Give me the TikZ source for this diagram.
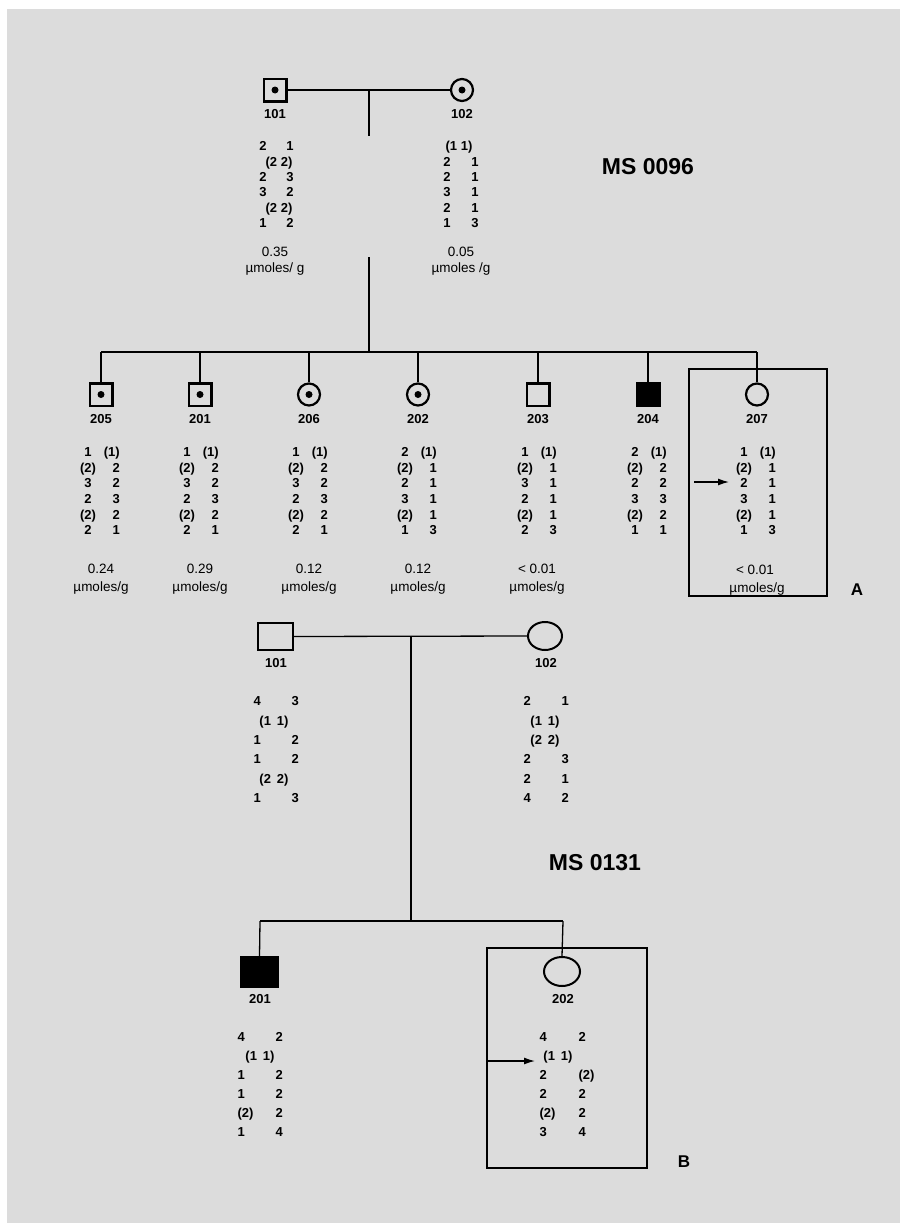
\documentclass[tikz,border=0pt]{standalone}
\usepackage{fontspec}
\setmainfont{Liberation Sans}
\usetikzlibrary{arrows.meta,shapes.geometric}
\definecolor{bg}{RGB}{220,220,220}
\newcommand\genotop[2]{% name, list (uses \cx)
  \foreach \ga/\gb [count=\i] in {#2} {
    \node[gt] (#1-\i a) at (\cx-13, 452+15.6*\i-15.6) {\ga};
    \node[gt,anchor=east] (#1-\i b) at (\cx+19, 452+15.6*\i-15.6) {\gb};
  }}
\newcommand\genopar[8]{% name, anchor, xl, xr, xm, y0, dy, list
  \foreach \ga/\gb/\gc [count=\i] in {#8} {
    \node[gt,anchor=#2] (#1-\i a) at (#3, #6+#7*\i-#7) {\ga};
    \node[gt,anchor=#2] (#1-\i b) at (#4, #6+#7*\i-#7) {\gb};
    \node[gt] (#1-\i c) at (#5, #6+#7*\i-#7) {\gc};
  }}
\begin{document}
\begin{tikzpicture}[x=1pt,y=-1pt,
  gt/.style={font=\fontsize{13}{13}\selectfont\bfseries, inner sep=0pt, text height=9.3pt, text depth=0pt},
  lab/.style={gt},
  val/.style={font=\fontsize{13.5}{14}\selectfont, inner sep=0pt, text height=9.7pt, text depth=0pt},
  big/.style={font=\fontsize{23}{23}\selectfont\bfseries, inner sep=0pt},
  letter/.style={font=\fontsize{17}{17}\selectfont\bfseries, inner sep=0pt},
  sq/.style={draw, line width=2.5pt, minimum size=22.5pt, inner sep=0pt},
  ci/.style={draw, circle, line width=2.2pt, minimum size=22pt, inner sep=0pt},
  blk/.style={sq, fill=black},
  bsq/.style={draw, rectangle, line width=2pt, minimum width=35pt, minimum height=27pt, inner sep=0pt},
  bci/.style={draw, ellipse, line width=2pt, minimum width=34pt, minimum height=28pt, inner sep=0pt},
  bblk/.style={draw, fill=black, rectangle, line width=1pt, minimum width=38pt, minimum height=31pt, inner sep=0pt},
  conn/.style={line width=1.3pt},
  frame/.style={draw, line width=1.5pt, inner sep=0pt},
  arr/.style={line width=1.3pt, -{Latex[length=11pt,width=7pt]}},
  dot/.style={fill=black}
]
\useasboundingbox (0,0) rectangle (900,1223);
\fill[white] (0,0) rectangle (900,1223);
\fill[bg] (7,9) rectangle (900,1223);

% ---------------- Pedigree A: MS 0096 ----------------
\node[sq] (a101) at (275,90) {};
\fill[dot] (a101.center) circle (3.5pt);
\node[ci] (a102) at (462,90) {};
\fill[dot] (a102.center) circle (3.5pt);
\node[lab] (a101l) at (275,114) {101};
\node[lab] (a102l) at (462,114) {102};

\coordinate (am) at (369,90);
\coordinate (am1) at (369,136);
\coordinate (am2) at (369,257);
\coordinate (as) at (369,352);
\coordinate (asl) at (101,352);
\coordinate (asr) at (757,352);
\draw[conn] (a101.east) -- (a102.west);
\draw[conn] (am) -- (am1);
\draw[conn] (am2) -- (as);
\draw[conn] (asl) -- (asr);

\genopar{g101}{center}{263}{290}{279}{146}{15.4}{{2}/{1}/{}, {}/{}/{(2 2)}, {2}/{3}/{}, {3}/{2}/{}, {}/{}/{(2 2)}, {1}/{2}/{}}
\genopar{g102}{center}{447}{475}{459}{146}{15.4}{{}/{}/{(1 1)}, {2}/{1}/{}, {2}/{1}/{}, {3}/{1}/{}, {2}/{1}/{}, {1}/{3}/{}}

\node[val] (v101) at (275,252) {0.35};
\node[val] (u101) at (275,268) {µmoles/ g};
\node[val] (v102) at (461,252) {0.05};
\node[val] (u102) at (461,268) {µmoles /g};

\node[big] (msa) at (648,167) {MS 0096};

% children
\node[sq] (c205) at (101,394.5) {};
\fill[dot] (c205.center) circle (3.5pt);
\node[sq] (c201) at (200,394.5) {};
\fill[dot] (c201.center) circle (3.5pt);
\node[ci] (c206) at (309,394.5) {};
\fill[dot] (c206.center) circle (3.5pt);
\node[ci] (c202) at (418,394.5) {};
\fill[dot] (c202.center) circle (3.5pt);
\node[sq] (c203) at (538,394.5) {};
\node[blk] (c204) at (648,394.5) {};
\node[ci] (c207) at (757,394.5) {};

\foreach \n/\x in {205/101,201/200,206/309,202/418,203/538,204/648,207/757}{
  \coordinate (t\n) at (\x,352);
  \draw[conn] (t\n) -- (c\n.north);
  \node[lab] (l\n) at (\x,419) {\n};
}

\def\cx{101}
\genotop{g205}{{1}/{(1)}, {(2)}/{2}, {3}/{2}, {2}/{3}, {(2)}/{2}, {2}/{1}}
\def\cx{200}
\genotop{g201}{{1}/{(1)}, {(2)}/{2}, {3}/{2}, {2}/{3}, {(2)}/{2}, {2}/{1}}
\def\cx{309}
\genotop{g206}{{1}/{(1)}, {(2)}/{2}, {3}/{2}, {2}/{3}, {(2)}/{2}, {2}/{1}}
\def\cx{418}
\genotop{g202}{{2}/{(1)}, {(2)}/{1}, {2}/{1}, {3}/{1}, {(2)}/{1}, {1}/{3}}
\def\cx{538}
\genotop{g203}{{1}/{(1)}, {(2)}/{1}, {3}/{1}, {2}/{1}, {(2)}/{1}, {2}/{3}}
\def\cx{648}
\genotop{g204}{{2}/{(1)}, {(2)}/{2}, {2}/{2}, {3}/{3}, {(2)}/{2}, {1}/{1}}
\def\cx{757}
\genotop{g207}{{1}/{(1)}, {(2)}/{1}, {2}/{1}, {3}/{1}, {(2)}/{1}, {1}/{3}}

\node[val] (v205) at (101,569) {0.24};
\node[val] (u205) at (101,587) {µmoles/g};
\node[val] (v201) at (200,569) {0.29};
\node[val] (u201) at (200,587) {µmoles/g};
\node[val] (v206) at (309,569) {0.12};
\node[val] (u206) at (309,587) {µmoles/g};
\node[val] (v202) at (418,569) {0.12};
\node[val] (u202) at (418,587) {µmoles/g};
\node[val] (v203) at (537,569) {< 0.01};
\node[val] (u203) at (537,587) {µmoles/g};
\node[val] (v207) at (755,570) {< 0.01};
\node[val] (u207) at (757,588) {µmoles/g};

\node[frame, minimum width=138pt, minimum height=227pt] (boxA) at (758,482.5) {};
\coordinate (arA1) at (694,482);
\coordinate (arA2) at (729,482);
\draw[arr] (arA1) -- (arA2);
\node[letter] (lA) at (857,590) {A};

% ---------------- Pedigree B: MS 0131 ----------------
\node[bsq] (b101) at (275.5,636.5) {};
\node[bci] (b102) at (545,636) {};
\node[lab] (b101l) at (276,663) {101};
\node[lab] (b102l) at (546,663) {102};
\coordinate (bm) at (411,637);
\coordinate (bs) at (411,921);
\coordinate (bsl) at (260,921);
\coordinate (bsr) at (563,921);
\draw[conn] (b101.east) -- (b102.west);
\draw[conn] (bm) -- (bs);
\draw[conn] (bsl) -- (bsr);

\genopar{h101}{west}{253.4}{291.4}{274}{701}{19.4}{{4}/{3}/{}, {}/{}/{(1\kern6pt 1)}, {1}/{2}/{}, {1}/{2}/{}, {}/{}/{(2\kern6pt 2)}, {1}/{3}/{}}
\genopar{h102}{west}{523.4}{561.4}{545}{701}{19.4}{{2}/{1}/{}, {}/{}/{(1\kern6pt 1)}, {}/{}/{(2\kern6pt 2)}, {2}/{3}/{}, {2}/{1}/{}, {4}/{2}/{}}

\node[big] (msb) at (595,863) {MS 0131};

\node[bblk] (b201) at (259.5,972) {};
\node[bci, minimum width=36pt, minimum height=29pt] (b202) at (562,971.5) {};
\draw[conn] (bsl) -- (b201.north);
\draw[conn] (bsr) -- (b202.north);
\node[lab] (b201l) at (260,999) {201};
\node[lab] (b202l) at (563,999) {202};

\genopar{h201}{west}{237.4}{275.4}{260}{1037}{19}{{4}/{2}/{}, {}/{}/{(1\kern6pt 1)}, {1}/{2}/{}, {1}/{2}/{}, {(2)}/{2}/{}, {1}/{4}/{}}
\genopar{h202}{west}{539.4}{578.4}{558}{1037}{19}{{4}/{2}/{}, {}/{}/{(1\kern6pt 1)}, {2}/{(2)}/{}, {2}/{2}/{}, {(2)}/{2}/{}, {3}/{4}/{}}

\node[frame, minimum width=160pt, minimum height=220pt] (boxB) at (567,1058) {};
\coordinate (arB1) at (487,1061);
\coordinate (arB2) at (535,1061);
\draw[arr] (arB1) -- (arB2);
\node[letter] (lB) at (684,1162) {B};
\end{tikzpicture}
\end{document}
